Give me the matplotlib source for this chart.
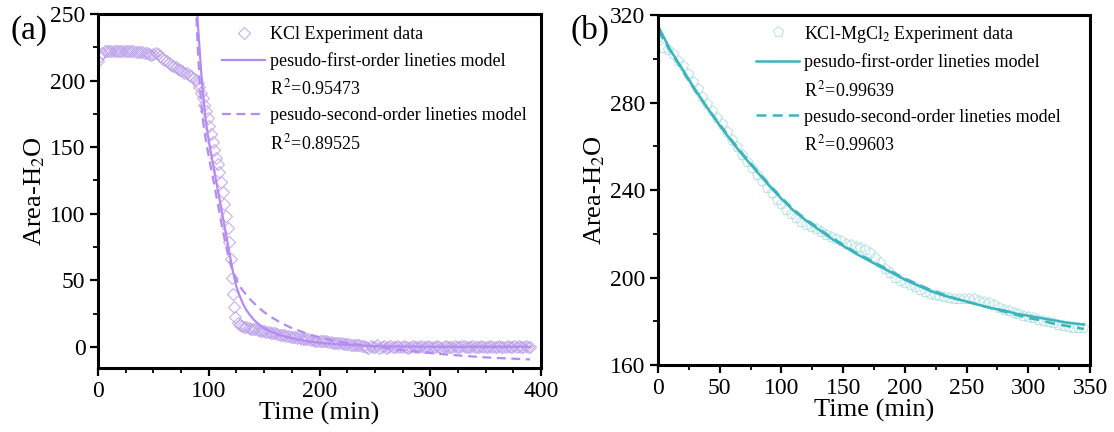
import numpy as np
import matplotlib.pyplot as plt
from matplotlib.lines import Line2D

plt.rcParams['font.family'] = ['Liberation Serif', 'DejaVu Serif']
plt.rcParams['mathtext.fontset'] = 'stix'

# ---- (a) KCl ----
# experiment data: flat part (every 2 min), the drop, then the tail (every 2 min)
kcl_t_flat = np.arange(0, 90, 2)
kcl_v_flat = [215, 218.5, 221, 222, 222.5, 222.5, 222.5, 222.5, 222.5, 222.5,
              222.5, 222, 222.5, 222, 222, 222, 222, 221.5, 221.5, 221.5,
              221.5, 221, 220.5, 220, 219.5, 220, 220.5, 220, 218.5, 217,
              215.5, 214.5, 213, 212, 211, 210, 209, 208, 207, 206,
              205.5, 204.5, 203.5, 202, 200.5]
kcl_t_drop = [90, 91.5, 93, 94.5, 96, 97.5, 99, 100.5, 102, 103.5, 105, 106.5,
              108, 109.5, 111, 112.5, 114, 115.5, 117, 118.5, 120, 121, 122,
              123, 124]
kcl_v_drop = [198, 195, 191, 187, 182, 177, 172, 166, 160, 154, 148, 142,
              137, 131, 124, 116, 107, 98, 89, 79, 66, 52, 40, 30, 22]
kcl_t_tail = np.arange(126, 392, 2)
kcl_v_tail = [18, 16.5, 15.5, 15, 14.5, 14, 13.5, 13, 13, 12.5, 12, 12, 11.5, 11, 11,
              10.5, 10, 10, 9.5, 9, 9, 8.5, 8, 8, 7.5, 7, 7, 6.5, 6.5, 6,
              6, 5.5, 5.5, 5, 5, 4.5, 4.5, 4.5, 4, 4, 4, 3.5, 3.5, 3, 3,
              3, 2.5, 2.5, 2, 2, 2, 1.5, 1.5, 1, 1, 1, 0.5, 0.5,
              0, -0.8, 0.6, -0.5, 0, 1.0, -0.6, 0, 0.5, -1.0, 0.2, 0.6, -0.5, 0, 0.5,
              0, -0.5, 0.6, 0, -0.6, 0.2, 0.5, 0, -0.5, 0, 0.6, -0.5, 0, 0.5, 0,
              -0.5, 0, 0.5, 0, -0.6, 0, 0.5, 0.1, -0.5, 0, 0.5, 0, -0.5, 0.3, 0.5,
              0, -0.5, 0, 0.5, 0, -0.5, 0.2, 0.5, 0, -0.5, 0, 0.5, 0, -0.4, 0,
              0.5, 0, -0.5, 0, 0.4, 0, -0.5, 0.3, 0, 0.5,
              -0.3, 0, 0.5, -0.5, 0]

# pseudo-first-order fit
pfo_a_t = [88.8, 91, 93, 95, 97, 99, 101, 103, 105, 107, 109, 111, 113, 115, 117,
           119, 121, 123, 125, 128, 131, 134, 137, 141, 145, 150, 156, 163, 170,
           180, 190, 200, 215, 230, 250, 270, 300, 340, 390]
pfo_a_v = [260, 232, 208, 188, 172, 160, 150, 141, 132, 123, 114, 105, 96, 87, 78,
           69, 60, 52, 45, 38, 32, 27.5, 24, 20, 17, 14, 11.5, 9, 7.5,
           5.5, 4, 3, 2, 1.2, 0.5, 0.2, 0, 0, 0]
# pseudo-second-order fit
pso_a_t = [88.3, 90, 92, 94, 96, 98, 100, 102, 104, 106, 108, 110, 112, 114, 116,
           118, 120, 122, 124, 127, 130, 134, 138, 143, 150, 157, 165, 175, 185,
           195, 205, 220, 235, 250, 270, 290, 310, 330, 350, 370, 390]
pso_a_v = [258, 225, 195, 175, 162, 152, 143, 134, 126, 117, 108, 99, 90, 82, 74,
           67, 61, 56, 52, 47, 43, 39, 35, 31, 26, 22, 18, 14, 11,
           8, 6, 3.5, 1.5, 0, -2, -3.8, -5.5, -6.8, -8, -8.8, -9.5]
r2_a = ['0.95473', '0.89525']

# ---- (b) KCl-MgCl2 ----
mg_t = np.arange(0, 348, 4)
mg_v = [310, 305, 304, 302, 299, 296.5, 293, 289.5, 286, 282.5, 279.5, 276, 273, 270,
        266.5, 263, 259.5, 256, 253, 250, 247, 244, 241, 238.5, 235.5, 233.5, 231,
        229, 227, 225.5, 224, 223, 222, 221, 219.5, 218.5, 217.5, 216.5, 215.5, 215,
        214, 213.5, 212.5, 211, 209, 206.5, 204, 202, 200, 198.5, 197.5, 196.5, 195.5,
        194.5, 193.5, 192.5, 192, 191.5, 191, 190.5, 190, 190, 190, 190, 190, 189.5,
        189, 188.5, 187.5, 186, 185, 184.5, 184, 183.5, 182.5, 182, 181.5, 180.5, 180,
        179.5, 179, 178.5, 178, 177.5, 177, 177, 177]

fit_b_t = [0, 10, 20, 30, 40, 50, 60, 70, 80, 90, 100, 110, 120, 130, 140, 150, 160,
           170, 180, 190, 200, 210, 220, 230, 240, 250, 260, 270, 280, 290, 300, 310,
           320, 330, 345]
pfo_b_v = [315, 304, 295, 286, 277.5, 269.5, 262, 255, 248.5, 242, 236, 230.5, 226,
           222, 218, 214.5, 211, 208, 205, 202, 199, 196.5, 194, 192, 190.5, 189,
           187.5, 186, 185, 183.5, 182.5, 181.5, 180.5, 179.5, 178.5]
pso_b_v = [313, 303.5, 294.5, 285.5, 277.5, 270, 262.5, 255.5, 249, 242.5, 236.5, 231,
           226.5, 222.5, 218.5, 215, 211.5, 208.5, 205.5, 202.5, 199.5, 197, 194.5,
           192.5, 190.5, 189, 187.5, 186, 184.5, 183, 181.5, 180.5, 179, 178, 176.5]
r2_b = ['0.99639', '0.99603']

purple = '#B68BF0'
purple_pt = '#BCA2EC'
teal = '#3BB4BD'
teal_pt = '#A9DEE2'


def style(ax, xmaj, xmin, ymaj, ymin):
    for s in ax.spines.values():
        s.set_linewidth(2.2)
    ax.set_xticks(np.arange(xmin[0], xmin[1] + 1, xmaj))
    ax.set_xticks(np.arange(xmin[0], xmin[1] + 1, xmaj / 4 if xmaj == 100 else xmaj / 2), minor=True)
    ax.set_yticks(np.arange(ymin[0], ymin[1] + 1, ymaj))
    ax.set_yticks(np.arange(ymin[0], ymin[1] + 1, ymaj / 2), minor=True)
    ax.tick_params(which='major', direction='out', length=6, width=1.6, labelsize=17, pad=3)
    ax.tick_params(which='minor', direction='out', length=3.5, width=1.3)
    ax.set_xlabel('Time (min)', fontsize=19, labelpad=0)
    ax.set_ylabel('Area-H$_2$O', fontsize=19, labelpad=2)


fig = plt.figure(figsize=(11.14, 4.32), dpi=100)
axA = fig.add_axes([0.088, 0.148, 0.3977, 0.8194])
axB = fig.add_axes([0.5907, 0.155, 0.3878, 0.8102])

legend_kw = dict(loc='upper left', frameon=False, fontsize=13, handlelength=2.4,
                 handletextpad=0.25, labelspacing=0.48, borderpad=0, borderaxespad=0)

# panel a
kcl_t = np.concatenate([kcl_t_flat, kcl_t_drop, kcl_t_tail])
kcl_v = np.concatenate([kcl_v_flat, kcl_v_drop, kcl_v_tail])
expA, = axA.plot(kcl_t, kcl_v, ls='none', marker='D', ms=5.8, mfc='none',
                 mec=purple_pt, mew=0.8, alpha=0.85)
pfoA, = axA.plot(pfo_a_t, pfo_a_v, color=purple, lw=1.6)
psoA, = axA.plot(pso_a_t, pso_a_v, color=purple, lw=1.6, ls=(0, (4, 2.5)))
axA.set_xlim(0, 400)
axA.set_ylim(-16, 250)
style(axA, 100, (0, 400), 50, (0, 250))

blank = Line2D([], [], ls='none')
axA.legend([expA, pfoA, blank, psoA, blank],
           ['KCl Experiment data', 'pesudo-first-order lineties model',
            r'R$^{\,2}$=' + r2_a[0], 'pesudo-second-order lineties model',
            r'R$^{\,2}$=' + r2_a[1]],
           bbox_to_anchor=(0.28, 0.965), **legend_kw)

# panel b
expB, = axB.plot(mg_t, mg_v, ls='none', marker='p', ms=8, mfc='none',
                 mec=teal_pt, mew=0.8, alpha=0.75)
pfoB, = axB.plot(fit_b_t, pfo_b_v, color=teal, lw=1.8)
psoB, = axB.plot(fit_b_t, pso_b_v, color=teal, lw=1.8, ls=(0, (4, 2.5)))
axB.set_xlim(0, 350)
axB.set_ylim(160, 320)
style(axB, 50, (0, 350), 40, (160, 320))

axB.legend([expB, pfoB, blank, psoB, blank],
           ['KCl-MgCl$_2$ Experiment data', 'pesudo-first-order lineties model',
            r'R$^{\,2}$=' + r2_b[0], 'pesudo-second-order lineties model',
            r'R$^{\,2}$=' + r2_b[1]],
           bbox_to_anchor=(0.227, 0.975), **legend_kw)

fig.text(0.009, 0.93, '(a)', fontsize=24, va='center', ha='left')
fig.text(0.512, 0.93, '(b)', fontsize=24, va='center', ha='left')

fig.savefig('out.png', dpi=100)
